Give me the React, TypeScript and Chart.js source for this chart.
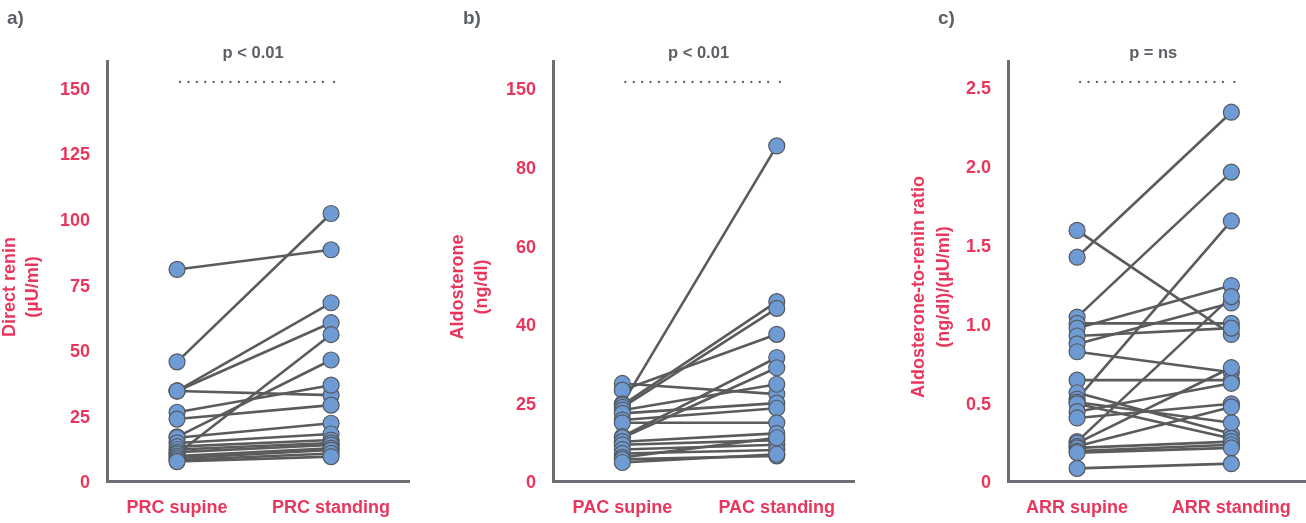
import React, { useEffect, useRef } from "react";
import { Chart, registerables } from "chart.js";

Chart.register(...registerables);

// ---------- Data ----------
// Panel a) Direct renin (µU/ml)
const prcCategories = ["PRC supine", "PRC standing"];
const prcSupine = [80.6, 45.4, 34.3, 34.3, 34.3, 26.2, 23.6, 16.8, 16.5, 14.5, 13.1, 12.0, 11.0, 10.3, 9.5, 8.7, 8.0, 7.4];
const prcStanding = [88.1, 101.9, 67.9, 60.3, 32.7, 36.5, 28.9, 46.1, 22.0, 17.9, 15.6, 14.5, 13.7, 55.8, 12.5, 11.8, 10.5, 9.3];
const prcTickValues = [0, 25, 50, 75, 100, 125, 150];
const prcTickLabels = ["0", "25", "50", "75", "100", "125", "150"];

// Panel b) Aldosterone (ng/dl) — axis positions evenly spaced, labelled as printed
const pacCategories = ["PAC supine", "PAC standing"];
const pacSupine = [24.8, 23.1, 19.6, 19.3, 18.7, 18.0, 17.2, 15.5, 14.8, 11.3, 11.0, 10.0, 9.2, 8.0, 7.0, 6.0, 5.5, 4.7];
const pacStanding = [22.1, 37.3, 85.2, 45.6, 43.9, 24.6, 19.8, 18.5, 14.8, 31.4, 28.8, 12.1, 10.4, 9.2, 7.9, 11.0, 6.4, 6.8];
const pacTickValues = [0, 20, 40, 60, 80, 100];
const pacTickLabels = ["0", "25", "40", "60", "80", "150"];

// Panel c) Aldosterone-to-renin ratio
const arrCategories = ["ARR supine", "ARR standing"];
const arrSupine = [1.59, 1.42, 1.04, 1.0, 0.97, 0.92, 0.87, 0.82, 0.64, 0.56, 0.52, 0.5, 0.49, 0.44, 0.4, 0.25, 0.24, 0.22, 0.21, 0.19, 0.18, 0.08];
const arrStanding = [0.93, 2.34, 1.96, 1.0, 1.24, 0.97, 1.13, 0.69, 0.64, 0.3, 1.65, 0.37, 0.27, 0.62, 0.49, 1.17, 0.72, 0.47, 0.25, 0.23, 0.21, 0.11];
const arrTickValues = [0, 0.5, 1.0, 1.5, 2.0, 2.5];
const arrTickLabels = ["0", "0.5", "1.0", "1.5", "2.0", "2.5"];

// ---------- Styles ----------
const PINK = "#e8365d";
const GRAY_TEXT = "#5b5f65";
const AXIS_GRAY = "#6b6e72";
const LINE_GRAY = "#5a5b5d";
const POINT_BLUE = "#6e9bd4";
const POINT_BORDER = "#55585c";
const FONT = "'Liberation Sans', Arial, Helvetica, sans-serif";

type PanelCfg = {
  label: string;
  pText: string;
  categories: string[];
  supine: number[];
  standing: number[];
  tickValues: number[];
  tickLabels: string[];
  yMax: number;
  yTitle: string[];
  // layout
  canvasLeft: number;
  canvasWidth: number;
  yAxisWidth: number;
  padRight: number;
  xMin: number;
  xMax: number;
  labelX: number;
  titleX: number[];
};

const panels: PanelCfg[] = [
  {
    label: "a)",
    pText: "p < 0.01",
    categories: prcCategories,
    supine: prcSupine,
    standing: prcStanding,
    tickValues: prcTickValues,
    tickLabels: prcTickLabels,
    yMax: 160,
    yTitle: ["Direct renin", "(µU/ml)"],
    canvasLeft: 0,
    canvasWidth: 412,
    yAxisWidth: 107,
    padRight: 3,
    xMin: 0.545,
    xMax: 2.506,
    labelX: 7,
    titleX: [10, 33],
  },
  {
    label: "b)",
    pText: "p < 0.01",
    categories: pacCategories,
    supine: pacSupine,
    standing: pacStanding,
    tickValues: pacTickValues,
    tickLabels: pacTickLabels,
    yMax: 106.8,
    yTitle: ["Aldosterone", "(ng/dl)"],
    canvasLeft: 430,
    canvasWidth: 427,
    yAxisWidth: 123,
    padRight: 3,
    xMin: 0.551,
    xMax: 2.5,
    labelX: 33,
    titleX: [28, 52],
  },
  {
    label: "c)",
    pText: "p = ns",
    categories: arrCategories,
    supine: arrSupine,
    standing: arrStanding,
    tickValues: arrTickValues,
    tickLabels: arrTickLabels,
    yMax: 2.665,
    yTitle: ["Aldosterone-to-renin ratio", "(ng/dl)/(µU/ml)"],
    canvasLeft: 866,
    canvasWidth: 440,
    yAxisWidth: 142,
    padRight: 0,
    xMin: 0.552,
    xMax: 2.484,
    labelX: 72,
    titleX: [53, 78],
  },
];

function Panel({ cfg }: { cfg: PanelCfg }) {
  const ref = useRef<HTMLCanvasElement | null>(null);

  useEffect(() => {
    if (!ref.current) return;

    const lineSets = cfg.supine.map((s, i) => ({
      type: "scatter" as const,
      data: [
        { x: 1, y: s },
        { x: 2, y: cfg.standing[i] },
      ],
      showLine: true,
      borderColor: LINE_GRAY,
      borderWidth: 2.6,
      pointRadius: 0,
      order: 2,
    }));

    const pointSet = {
      type: "scatter" as const,
      data: [
        ...cfg.supine.map((v) => ({ x: 1, y: v })),
        ...cfg.standing.map((v) => ({ x: 2, y: v })),
      ],
      showLine: false,
      pointRadius: 8,
      pointBackgroundColor: POINT_BLUE,
      pointBorderColor: POINT_BORDER,
      pointBorderWidth: 1.2,
      order: 1,
    };

    const overlay = {
      id: "overlay",
      afterDraw(chart: any) {
        const { ctx, chartArea, scales } = chart;
        const x1 = scales.x.getPixelForValue(1);
        const x2 = scales.x.getPixelForValue(2);
        ctx.save();
        // dotted bracket
        ctx.fillStyle = GRAY_TEXT;
        const by = chartArea.top + 21;
        const step = 8.4;
        for (let x = x1 + 3; x <= x2 - 8; x += step) {
          ctx.beginPath();
          ctx.arc(x, by, 1.15, 0, Math.PI * 2);
          ctx.fill();
        }
        ctx.beginPath();
        ctx.arc(x2 + 3, by, 1.15, 0, Math.PI * 2);
        ctx.fill();
        // p text
        ctx.font = `bold 16.5px ${FONT}`;
        ctx.textAlign = "center";
        ctx.textBaseline = "middle";
        ctx.fillText(cfg.pText, (x1 + x2) / 2 - 1, 53);
        // panel label
        ctx.font = `bold 19px ${FONT}`;
        ctx.textAlign = "left";
        ctx.fillText(cfg.label, cfg.labelX, 19);
        // y title
        ctx.fillStyle = PINK;
        ctx.font = `bold 18px ${FONT}`;
        ctx.textAlign = "center";
        cfg.yTitle.forEach((line, i) => {
          ctx.save();
          ctx.translate(cfg.titleX[i], 287);
          ctx.rotate(-Math.PI / 2);
          ctx.fillText(line, 0, 0);
          ctx.restore();
        });
        ctx.restore();
      },
    };

    const chart = new Chart(ref.current, {
      type: "scatter",
      data: { datasets: [pointSet, ...lineSets] as any },
      options: {
        animation: false,
        responsive: false,
        maintainAspectRatio: false,
        events: [],
        layout: {
          autoPadding: false,
          padding: { top: 61, right: cfg.padRight, left: 0, bottom: 0 },
        },
        plugins: {
          legend: { display: false },
          tooltip: { enabled: false },
          title: { display: false },
        },
        scales: {
          x: {
            type: "linear",
            min: cfg.xMin,
            max: cfg.xMax,
            grid: { display: false, drawTicks: false },
            border: { display: true, color: AXIS_GRAY, width: 3 },
            afterBuildTicks: (s: any) => {
              s.ticks = [{ value: 1 }, { value: 2 }];
            },
            afterFit: (s: any) => {
              s.height = 42;
              s.paddingLeft = 0;
              s.paddingRight = 0;
              s.paddingTop = 0;
              s.paddingBottom = 0;
            },
            ticks: {
              autoSkip: false,
              maxRotation: 0,
              padding: 16,
              color: PINK,
              font: { family: FONT, size: 18, weight: "bold" },
              callback: (_v: any, i: number) => cfg.categories[i],
            },
          },
          y: {
            type: "linear",
            min: 0,
            max: cfg.yMax,
            grid: { display: false, drawTicks: false },
            border: { display: true, color: AXIS_GRAY, width: 3 },
            afterBuildTicks: (s: any) => {
              s.ticks = cfg.tickValues.map((v) => ({ value: v }));
            },
            afterFit: (s: any) => {
              s.width = cfg.yAxisWidth;
              s.paddingLeft = 0;
              s.paddingRight = 0;
              s.paddingTop = 0;
              s.paddingBottom = 0;
            },
            ticks: {
              padding: 17,
              labelOffset: 2.5,
              color: PINK,
              font: { family: FONT, size: 18, weight: "bold" },
              callback: (_v: any, i: number) => cfg.tickLabels[i],
            },
          },
        },
      },
      plugins: [overlay],
    } as any);

    return () => chart.destroy();
  }, [cfg]);

  return (
    <canvas
      ref={ref}
      width={cfg.canvasWidth}
      height={523}
      style={{
        position: "absolute",
        left: cfg.canvasLeft,
        top: 0,
        width: cfg.canvasWidth,
        height: 523,
      }}
    />
  );
}

export default function App() {
  return (
    <div
      style={{
        position: "absolute",
        left: 0,
        top: 0,
        width: 1306,
        height: 523,
        background: "#ffffff",
        overflow: "hidden",
      }}
    >
      {panels.map((p) => (
        <Panel key={p.label} cfg={p} />
      ))}
    </div>
  );
}
